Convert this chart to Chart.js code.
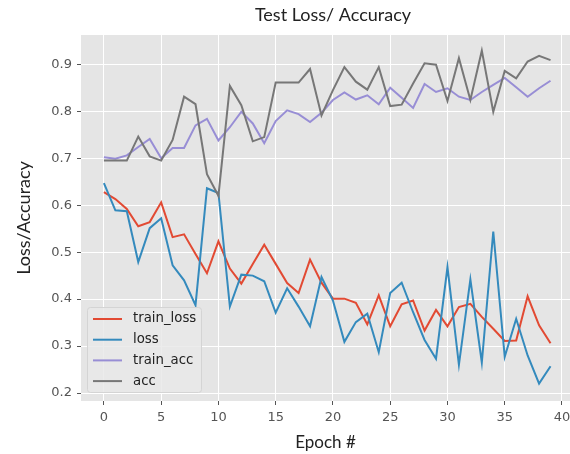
<!DOCTYPE html>
<html>
<head>
<meta charset="utf-8">
<title>Test Loss/ Accuracy</title>
<script src="https://cdn.jsdelivr.net/npm/chart.js@4.4.0/dist/chart.umd.min.js"></script>
<style>
  html, body { margin: 0; padding: 0; background: #fff; }
  #wrap { width: 570px; height: 454px; }
</style>
</head>
<body>
<div id="wrap"><canvas id="lossChart" width="570" height="454"></canvas></div>
<script>
// values
const epochs = [0, 1, 2, 3, 4, 5, 6, 7, 8, 9, 10, 11, 12, 13, 14, 15, 16, 17, 18, 19,
  20, 21, 22, 23, 24, 25, 26, 27, 28, 29, 30, 31, 32, 33, 34, 35, 36, 37, 38, 39];

const trainLoss = [0.628, 0.613, 0.592, 0.555, 0.564, 0.606, 0.532, 0.538, 0.496, 0.455,
  0.523, 0.465, 0.433, 0.475, 0.516, 0.475, 0.434, 0.413, 0.484, 0.435,
  0.401, 0.401, 0.392, 0.346, 0.408, 0.342, 0.389, 0.397, 0.333, 0.377,
  0.342, 0.383, 0.390, 0.362, 0.337, 0.311, 0.312, 0.406, 0.344, 0.306];

const loss = [0.647, 0.589, 0.587, 0.479, 0.551, 0.572, 0.472, 0.440, 0.387, 0.636,
  0.626, 0.384, 0.452, 0.450, 0.438, 0.371, 0.423, 0.384, 0.342, 0.447,
  0.397, 0.309, 0.351, 0.369, 0.287, 0.413, 0.435, 0.372, 0.313, 0.273,
  0.468, 0.260, 0.442, 0.265, 0.544, 0.277, 0.358, 0.280, 0.220, 0.257];

const trainAcc = [0.702, 0.699, 0.706, 0.724, 0.741, 0.700, 0.722, 0.722, 0.770, 0.784,
  0.738, 0.766, 0.799, 0.774, 0.732, 0.779, 0.802, 0.794, 0.777, 0.797,
  0.824, 0.840, 0.825, 0.834, 0.815, 0.850, 0.829, 0.807, 0.858, 0.841,
  0.849, 0.831, 0.824, 0.841, 0.856, 0.871, 0.851, 0.831, 0.849, 0.865];

const acc = [0.695, 0.695, 0.695, 0.746, 0.704, 0.695, 0.739, 0.831, 0.815, 0.666,
  0.620, 0.854, 0.813, 0.736, 0.745, 0.861, 0.861, 0.861, 0.890, 0.791,
  0.845, 0.894, 0.863, 0.846, 0.894, 0.811, 0.814, 0.859, 0.902, 0.899,
  0.822, 0.913, 0.824, 0.929, 0.799, 0.886, 0.870, 0.906, 0.918, 0.909];

const xTicks = [0, 5, 10, 15, 20, 25, 30, 35, 40];
const yTicks = [0.2, 0.3, 0.4, 0.5, 0.6, 0.7, 0.8, 0.9];

const chartTitle = "Test Loss/ Accuracy";

function points(values) {
  return epochs.map((e, i) => ({ x: e, y: values[i] }));
}

// grey plot area like matplotlib's ggplot style
const plotBackground = {
  id: "plotBackground",
  beforeDraw(chart) {
    const { ctx, chartArea } = chart;
    ctx.save();
    ctx.fillStyle = "#e5e5e5";
    ctx.fillRect(chartArea.left, chartArea.top, chartArea.right - chartArea.left, chartArea.bottom - chartArea.top);
    ctx.restore();
  }
};

const titleText = {
  id: "titleText",
  afterDraw(chart) {
    const ctx = chart.ctx;
    ctx.save();
    ctx.font = "18px Lato";
    ctx.fillStyle = "#222";
    ctx.textAlign = "center";
    ctx.textBaseline = "alphabetic";
    ctx.fillText(chartTitle, 333, 21);
    ctx.restore();
  }
};

// legend box in the lower left corner of the plot
const insideLegend = {
  id: "insideLegend",
  afterDatasetsDraw(chart) {
    const { ctx, chartArea } = chart;
    const sets = chart.data.datasets;
    const x = chartArea.left + 6;
    const y = chartArea.bottom - 94;
    const w = 114;
    const h = 85;
    ctx.save();
    ctx.fillStyle = "rgba(233,233,233,0.85)";
    ctx.strokeStyle = "#d4d4d4";
    ctx.lineWidth = 1;
    ctx.beginPath();
    ctx.roundRect(x + 0.5, y + 0.5, w, h, 3);
    ctx.fill();
    ctx.stroke();

    ctx.font = "13.3px 'DejaVu Sans'";
    ctx.textAlign = "left";
    ctx.textBaseline = "middle";
    sets.forEach((ds, i) => {
      const ly = y + 12 + i * 20.7;
      ctx.strokeStyle = ds.borderColor;
      ctx.lineWidth = 2;
      ctx.beginPath();
      ctx.moveTo(x + 6, ly);
      ctx.lineTo(x + 35, ly);
      ctx.stroke();
      ctx.fillStyle = "#222";
      ctx.fillText(ds.label, x + 46, ly);
    });
    ctx.restore();
  }
};

const tickFont = { family: "DejaVu Sans", size: 13 };

const ctx = document.getElementById("lossChart").getContext("2d");

new Chart(ctx, {
  type: "line",
  data: {
    datasets: [
      { label: "train_loss", data: points(trainLoss), borderColor: "#E24A33", order: 3 },
      { label: "loss", data: points(loss), borderColor: "#348ABD", order: 2 },
      { label: "train_acc", data: points(trainAcc), borderColor: "#988ED5", order: 1 },
      { label: "acc", data: points(acc), borderColor: "#777777", order: 0 }
    ]
  },
  options: {
    responsive: false,
    animation: false,
    devicePixelRatio: 1,
    layout: { padding: { top: 35, left: 0, right: 0, bottom: 0 }, autoPadding: false },
    elements: {
      line: { borderWidth: 2, tension: 0, fill: false },
      point: { radius: 0, hoverRadius: 0 }
    },
    plugins: {
      legend: { display: false },
      tooltip: { enabled: false },
      title: { display: false }
    },
    scales: {
      x: {
        type: "linear",
        min: -2.0,
        max: 40.7,
        afterBuildTicks: (s) => { s.ticks = xTicks.map(v => ({ value: v })); },
        afterFit: (s) => { s.height = 53; s.paddingLeft = 0; s.paddingRight = 0; },
        ticks: { font: tickFont, color: "#555", padding: 5, maxRotation: 0, callback: (v) => String(v) },
        grid: { color: "#ffffff", lineWidth: 1, tickColor: "#555", tickLength: 4 },
        border: { display: false },
        title: {
          display: true,
          text: "Epoch #",
          color: "#222",
          font: { family: "Lato", size: 17 },
          padding: { top: 0, bottom: 1 }
        }
      },
      y: {
        type: "linear",
        min: 0.183,
        max: 0.9624,
        afterBuildTicks: (s) => { s.ticks = yTicks.map(v => ({ value: v })); },
        afterFit: (s) => { s.width = 81; s.paddingTop = 0; s.paddingBottom = 0; },
        ticks: { font: tickFont, color: "#555", padding: 5, callback: (v) => v.toFixed(1) },
        grid: { color: "#ffffff", lineWidth: 1, tickColor: "#555", tickLength: 4 },
        border: { display: false },
        title: {
          display: true,
          text: "Loss/Accuracy",
          color: "#222",
          font: { family: "Lato", size: 18 },
          padding: { top: 13, bottom: 0 }
        }
      }
    }
  },
  plugins: [plotBackground, titleText, insideLegend]
});
</script>
</body>
</html>
